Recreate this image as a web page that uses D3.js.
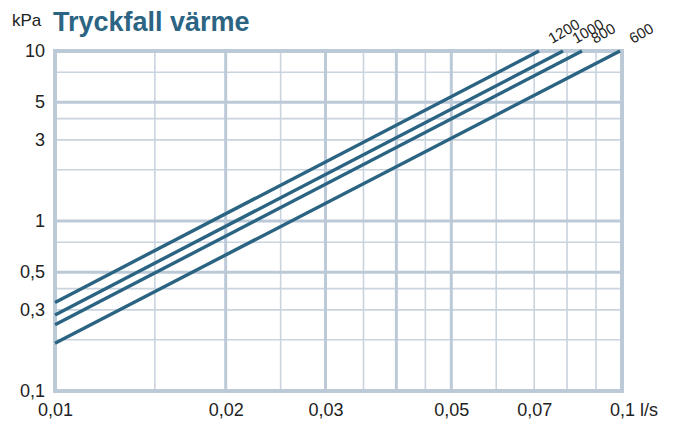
<!DOCTYPE html>
<html>
<head>
<meta charset="utf-8">
<script src="https://cdn.jsdelivr.net/npm/d3@7"></script>
<style>
  body { margin: 0; background: #fff; }
  text { font-family: "Liberation Sans", Arial, sans-serif; }
</style>
</head>
<body>
<script>
// data
var series = ["1200", "1000", "800", "600"];
var startFlow = 0.01;                       // l/s, left edge
var startKpa = [0.332, 0.280, 0.245, 0.191]; // kPa at 0.01 l/s
var endKpa = 10;
var endFlow = [0.0714, 0.0787, 0.0850, 0.0992]; // l/s where each line hits 10 kPa

var xTicks = [0.01, 0.02, 0.03, 0.05, 0.07, 0.1];
var yTicks = [0.1, 0.3, 0.5, 1, 3, 5, 10];
var xGridThin = [0.015, 0.025, 0.035, 0.045, 0.06, 0.07, 0.08, 0.09];
var xGridThick = [0.02, 0.03, 0.04, 0.05];
var yGridThin = [0.2, 0.3, 0.4, 0.75, 2, 3, 4, 7.5];
var yGridThick = [0.5, 1, 5];

var W = 683, H = 421;
var pL = 55, pR = 622, pT = 51, pB = 391;

var svg = d3.select("body")
            .append("svg")
            .attr("width", W)
            .attr("height", H);

var x = d3.scaleLog().domain([0.01, 0.1]).range([pL, pR]);
var y = d3.scaleLog().domain([0.1, 10]).range([pB, pT]);

var fmt = function(d) { return String(d).replace(".", ","); };

// grid
var grid = svg.append("g");
grid.selectAll("line.xt")
    .data(xGridThin)
    .enter().append("line")
    .attr("x1", function(d) { return x(d); })
    .attr("x2", function(d) { return x(d); })
    .attr("y1", pT).attr("y2", pB)
    .attr("stroke", "#c9d4df").attr("stroke-width", 1.6);
grid.selectAll("line.yt")
    .data(yGridThin)
    .enter().append("line")
    .attr("y1", function(d) { return y(d); })
    .attr("y2", function(d) { return y(d); })
    .attr("x1", pL).attr("x2", pR)
    .attr("stroke", "#c9d4df").attr("stroke-width", 1.6);
grid.selectAll("line.xT")
    .data(xGridThick)
    .enter().append("line")
    .attr("x1", function(d) { return x(d); })
    .attr("x2", function(d) { return x(d); })
    .attr("y1", pT).attr("y2", pB)
    .attr("stroke", "#bccad8").attr("stroke-width", 3);
grid.selectAll("line.yT")
    .data(yGridThick)
    .enter().append("line")
    .attr("y1", function(d) { return y(d); })
    .attr("y2", function(d) { return y(d); })
    .attr("x1", pL).attr("x2", pR)
    .attr("stroke", "#bccad8").attr("stroke-width", 3);

// frame
svg.append("rect")
   .attr("x", pL).attr("y", pT)
   .attr("width", pR - pL).attr("height", pB - pT)
   .attr("fill", "none")
   .attr("stroke", "#bccad8").attr("stroke-width", 4);

// lines
var line = d3.line()
             .x(function(d) { return x(d[0]); })
             .y(function(d) { return y(d[1]); });

svg.selectAll("path.curve")
   .data(series)
   .enter().append("path")
   .attr("d", function(d, i) {
     return line([[startFlow, startKpa[i]], [endFlow[i], endKpa]]);
   })
   .attr("fill", "none")
   .attr("stroke", "#2b6482")
   .attr("stroke-width", 3.4);

// series labels
svg.selectAll("text.lbl")
   .data(series)
   .enter().append("text")
   .attr("transform", function(d, i) {
     return "translate(" + (x(endFlow[i]) + 13) + "," + (y(endKpa) - 7) + ") rotate(-30)";
   })
   .attr("font-size", 15)
   .attr("fill", "#222")
   .text(function(d) { return d; });

// axes
var xAxis = svg.append("g")
               .attr("transform", "translate(0," + pB + ")")
               .call(d3.axisBottom(x).tickValues(xTicks).tickFormat(fmt).tickSize(0).tickPadding(12));
var yAxis = svg.append("g")
               .attr("transform", "translate(" + pL + ",0)")
               .call(d3.axisLeft(y).tickValues(yTicks).tickFormat(fmt).tickSize(0).tickPadding(10));
[xAxis, yAxis].forEach(function(a) {
  a.select(".domain").remove();
  a.selectAll("text")
   .attr("font-size", 18)
   .attr("fill", "#222")
   .style("font-family", "'Liberation Sans', Arial, sans-serif");
});

svg.append("text")
   .attr("x", x(0.1) + 18).attr("y", pB + 25)
   .attr("font-size", 18).attr("fill", "#222")
   .text("l/s");

svg.append("text")
   .attr("x", 12).attr("y", 26)
   .attr("font-size", 17).attr("fill", "#222")
   .text("kPa");

svg.append("text")
   .attr("x", 53).attr("y", 31)
   .attr("font-size", 27).attr("font-weight", "bold")
   .attr("fill", "#2c6583")
   .text("Tryckfall värme");
</script>
</body>
</html>
